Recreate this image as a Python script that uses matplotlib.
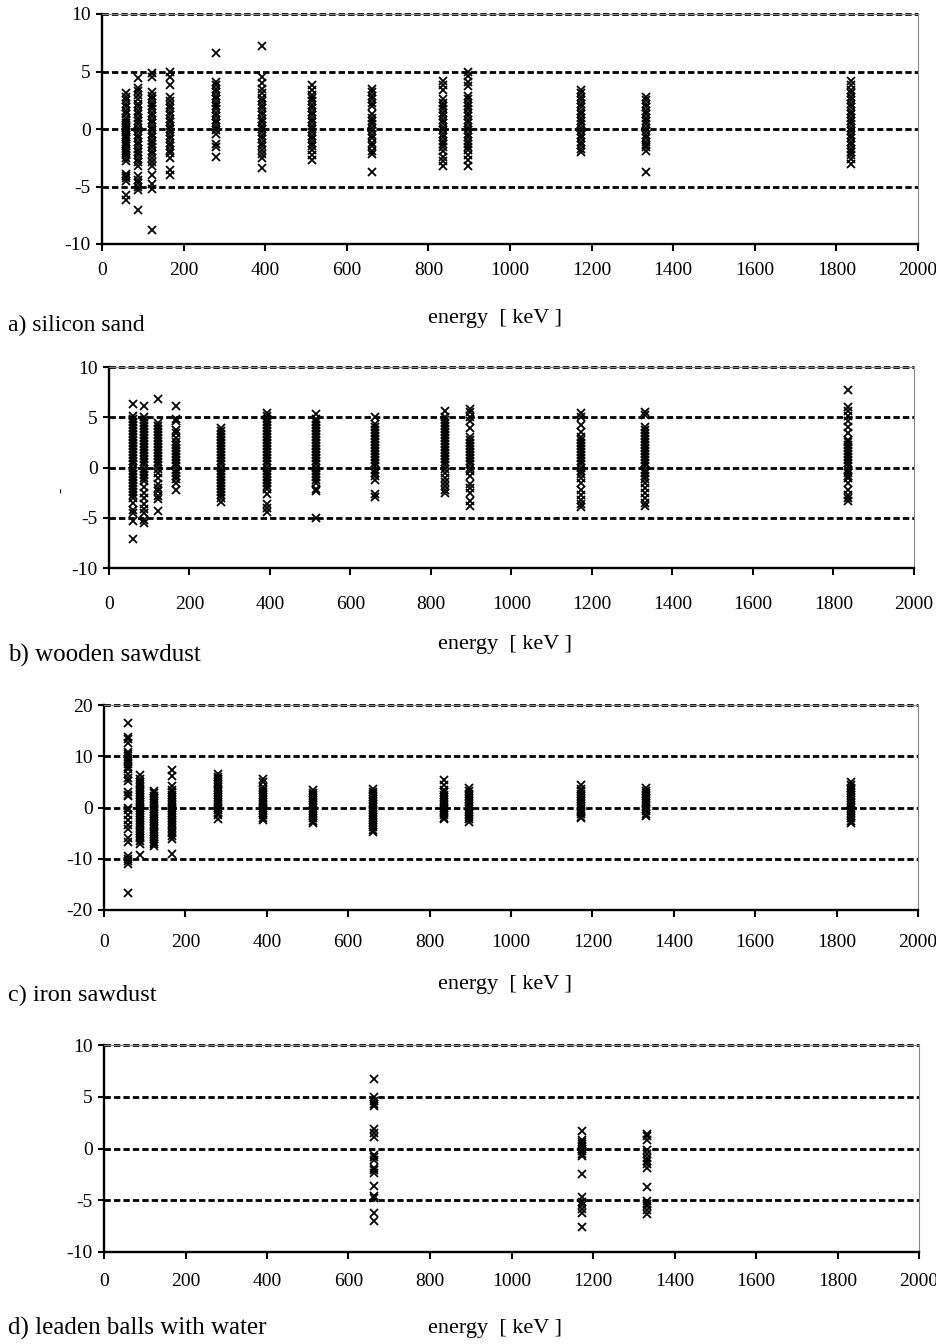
import matplotlib.pyplot as plt
import numpy as np

plt.rcParams['font.family'] = ['Liberation Serif', 'DejaVu Serif']
plt.rcParams['axes.unicode_minus'] = False

# gamma lines, keV
energies = [59.5, 88.0, 122.1, 165.9, 279.2, 391.7, 514.0, 661.7, 834.8, 898.0, 1173.2, 1332.5, 1836.1]
energies_lead = [661.7, 1173.2, 1332.5]

# a) silicon sand, deviation per line
sand_dev = [
    [3.1, 2.8, 2.5, 2.2, 1.9, 1.6, 1.3, 1.0, 0.8, 0.5, 0.3, 0.1, -0.1, -0.3, -0.5, -0.7, -0.9, -1.1, -1.3, -1.5, -1.7, -1.9, -2.1, -2.3, -2.5, -2.8, -3.9, -4.1, -4.3, -4.5, -5.7, -6.2],
    [4.4, 3.6, 3.3, 3.0, 2.6, 2.2, 1.9, 1.6, 1.3, 1.0, 0.7, 0.4, 0.1, -0.2, -0.5, -0.8, -1.1, -1.4, -1.7, -2.0, -2.3, -2.6, -2.9, -3.2, -4.1, -4.4, -4.7, -5.0, -5.3, -7.0],
    [4.9, 4.5, 3.2, 2.9, 2.6, 2.3, 2.0, 1.7, 1.4, 1.1, 0.8, 0.5, 0.2, -0.1, -0.4, -0.7, -1.0, -1.3, -1.6, -1.9, -2.2, -2.5, -2.9, -3.2, -4.0, -4.8, -5.2, -8.8],
    [5.0, 4.5, 3.8, 2.8, 2.4, 2.1, 1.8, 1.5, 1.2, 0.9, 0.6, 0.3, 0.0, -0.3, -0.6, -0.9, -1.2, -1.5, -1.8, -2.1, -2.5, -3.6, -4.0],
    [6.6, 4.1, 3.8, 3.5, 3.2, 2.9, 2.6, 2.3, 2.0, 1.7, 1.4, 1.1, 0.8, 0.5, 0.2, -0.1, -0.4, -1.3, -1.6, -2.4],
    [7.2, 4.5, 4.0, 3.5, 3.1, 2.7, 2.4, 2.1, 1.8, 1.5, 1.2, 0.9, 0.6, 0.3, 0.0, -0.3, -0.6, -0.9, -1.2, -1.5, -1.8, -2.2, -2.5, -3.4],
    [3.8, 3.4, 3.0, 2.7, 2.4, 2.1, 1.8, 1.5, 1.2, 0.9, 0.6, 0.3, 0.0, -0.3, -0.6, -0.9, -1.2, -1.5, -1.8, -2.3, -2.7],
    [3.5, 3.2, 2.9, 2.6, 2.3, 2.0, 1.3, 1.0, 0.7, 0.4, 0.1, -0.2, -0.5, -0.8, -1.2, -1.5, -1.9, -2.2, -3.7],
    [4.2, 3.8, 3.4, 2.6, 2.3, 2.0, 1.7, 1.4, 1.1, 0.8, 0.5, 0.2, -0.1, -0.4, -0.7, -1.0, -1.3, -1.6, -1.9, -2.4, -2.8, -3.2],
    [5.0, 4.6, 4.1, 3.7, 2.9, 2.6, 2.3, 2.0, 1.7, 1.4, 1.1, 0.8, 0.5, 0.2, -0.1, -0.4, -0.7, -1.0, -1.3, -1.6, -1.8, -2.3, -2.7, -3.2],
    [3.4, 3.1, 2.8, 2.5, 2.2, 1.9, 1.6, 1.3, 1.0, 0.7, 0.4, 0.1, -0.2, -0.5, -0.8, -1.1, -1.4, -1.7, -2.0],
    [2.8, 2.5, 2.2, 1.9, 1.6, 1.3, 1.0, 0.7, 0.4, 0.1, -0.2, -0.5, -0.8, -1.1, -1.4, -1.6, -1.9, -3.7],
    [4.2, 3.8, 3.4, 3.1, 2.8, 2.5, 2.2, 1.9, 1.6, 1.3, 1.0, 0.7, 0.4, 0.1, -0.2, -0.5, -0.8, -1.1, -1.4, -1.7, -2.0, -2.3, -2.6, -3.0],
]

# b) wooden sawdust
wood_dev = [
    [6.3, 5.1, 4.8, 4.5, 4.2, 3.9, 3.6, 3.3, 3.0, 2.7, 2.4, 2.1, 1.8, 1.5, 1.2, 0.9, 0.6, 0.3, 0.0, -0.3, -0.6, -0.9, -1.2, -1.5, -1.8, -2.1, -2.4, -2.7, -3.0, -3.5, -4.2, -4.5, -5.3, -7.1],
    [6.1, 5.0, 4.7, 4.4, 4.1, 3.8, 3.5, 3.2, 2.9, 2.6, 2.3, 2.0, 1.7, 1.4, 1.1, 0.8, 0.5, 0.2, -0.1, -0.4, -0.7, -1.0, -1.3, -1.9, -2.5, -3.0, -3.6, -4.1, -4.5, -5.2, -5.5],
    [6.8, 4.4, 4.1, 3.8, 3.5, 3.2, 2.9, 2.6, 2.3, 2.0, 1.7, 1.4, 1.1, 0.8, 0.5, 0.2, -0.1, -0.5, -1.0, -1.6, -2.0, -2.3, -2.8, -3.1, -4.3],
    [6.1, 4.8, 4.6, 3.7, 3.4, 2.9, 2.5, 2.2, 1.9, 1.6, 1.3, 1.0, 0.7, 0.4, 0.1, -0.2, -0.5, -0.8, -1.1, -1.5, -2.2],
    [3.9, 3.6, 3.3, 3.0, 2.7, 2.4, 2.1, 1.8, 1.5, 1.2, 0.9, 0.6, 0.3, 0.0, -0.3, -0.6, -0.9, -1.2, -1.5, -1.8, -2.1, -2.4, -2.7, -3.0, -3.4],
    [5.4, 5.1, 4.8, 4.5, 4.2, 3.9, 3.6, 3.3, 3.0, 2.7, 2.4, 2.1, 1.8, 1.5, 1.2, 0.9, 0.6, 0.3, 0.0, -0.3, -0.6, -0.9, -1.2, -1.5, -1.8, -2.1, -2.6, -3.6, -4.0, -4.4],
    [5.3, 4.8, 4.5, 4.2, 3.9, 3.6, 3.3, 3.0, 2.7, 2.4, 2.1, 1.8, 1.5, 1.2, 0.9, 0.6, 0.3, 0.0, -0.3, -0.6, -0.9, -1.2, -1.5, -2.1, -2.3, -5.0],
    [5.0, 4.3, 4.0, 3.7, 3.4, 3.1, 2.8, 2.5, 2.2, 1.9, 1.6, 1.3, 1.0, 0.7, 0.4, 0.1, -0.2, -0.5, -0.8, -1.2, -2.6, -2.9],
    [5.6, 5.0, 4.7, 4.4, 4.1, 3.8, 3.5, 3.2, 2.9, 2.6, 2.3, 2.0, 1.7, 1.4, 1.1, 0.8, 0.5, 0.2, -0.1, -0.5, -1.0, -1.4, -1.8, -2.2, -2.5],
    [5.8, 5.5, 5.0, 4.6, 3.9, 3.0, 2.7, 2.4, 2.1, 1.8, 1.5, 1.2, 0.9, 0.6, 0.3, 0.0, -0.3, -0.8, -1.6, -2.0, -2.5, -3.3, -3.8],
    [5.4, 5.0, 4.2, 3.5, 3.0, 2.7, 2.4, 2.1, 1.8, 1.5, 1.2, 0.9, 0.6, 0.3, 0.0, -0.3, -0.6, -1.0, -1.5, -2.2, -2.7, -3.2, -3.6, -3.9],
    [5.5, 5.2, 4.0, 3.7, 3.4, 3.1, 2.8, 2.5, 2.2, 1.9, 1.6, 1.3, 1.0, 0.7, 0.4, 0.1, -0.2, -0.5, -0.8, -1.1, -1.5, -2.0, -2.5, -3.0, -3.5, -3.8],
    [7.7, 6.0, 5.6, 5.1, 4.6, 4.0, 3.4, 2.7, 2.5, 2.2, 1.9, 1.6, 1.3, 1.0, 0.7, 0.4, 0.1, -0.2, -0.5, -0.8, -1.0, -1.5, -2.2, -2.7, -3.0, -3.3],
]

# c) iron sawdust
iron_dev = [
    [16.5, 13.8, 13.3, 12.6, 10.9, 10.5, 10.0, 9.5, 9.0, 8.5, 8.0, 7.5, 6.6, 5.8, 5.2, 3.0, 2.5, 2.2, 0.0, -0.5, -1.5, -2.5, -3.5, -4.2, -6.0, -6.7, -9.5, -10.0, -10.4, -11.0, -16.6],
    [6.3, 5.5, 5.0, 4.5, 4.0, 3.5, 3.0, 2.5, 2.0, 1.5, 1.0, 0.5, 0.0, -0.5, -1.0, -1.5, -2.0, -2.5, -3.0, -3.5, -4.0, -4.5, -5.0, -5.5, -6.0, -6.5, -7.2, -9.3],
    [3.3, 2.8, 2.3, 1.8, 1.3, 0.8, 0.3, -0.2, -0.7, -1.2, -1.7, -2.2, -2.7, -3.2, -3.7, -4.2, -4.7, -5.2, -5.7, -6.2, -6.7, -7.2, -7.6],
    [7.4, 6.2, 4.2, 3.5, 3.0, 2.5, 2.0, 1.5, 1.0, 0.5, 0.0, -0.5, -1.0, -1.5, -2.0, -2.5, -3.0, -3.5, -4.0, -4.5, -5.0, -5.5, -6.2, -9.0],
    [6.6, 6.0, 5.5, 5.0, 4.5, 4.0, 3.5, 3.0, 2.5, 2.0, 1.5, 1.0, 0.5, 0.0, -0.5, -1.0, -1.5, -2.2],
    [5.6, 5.0, 4.0, 3.5, 3.0, 2.5, 2.0, 1.5, 1.0, 0.5, 0.0, -0.5, -1.0, -1.5, -2.0, -2.5],
    [3.4, 2.9, 2.4, 1.9, 1.4, 0.9, 0.4, -0.1, -0.6, -1.1, -1.6, -2.1, -2.6, -3.1],
    [3.6, 3.1, 2.6, 2.1, 1.6, 1.1, 0.6, 0.1, -0.4, -0.9, -1.4, -1.9, -2.4, -2.9, -3.4, -3.9, -4.4, -4.8],
    [5.3, 4.3, 3.5, 3.0, 2.5, 2.0, 1.5, 1.0, 0.5, 0.0, -0.5, -1.0, -1.5, -2.0, -2.3],
    [3.9, 3.2, 2.7, 2.2, 1.7, 1.2, 0.7, 0.2, -0.3, -0.8, -1.3, -1.8, -2.3, -2.8],
    [4.3, 3.6, 3.2, 2.7, 2.2, 1.7, 1.2, 0.7, 0.2, -0.3, -0.8, -1.3, -1.8, -2.1],
    [3.9, 3.3, 2.8, 2.3, 1.8, 1.3, 0.8, 0.3, -0.2, -0.7, -1.2, -1.7],
    [4.9, 4.4, 3.9, 3.4, 2.9, 2.4, 1.9, 1.4, 0.9, 0.4, -0.1, -0.6, -1.1, -1.6, -2.1, -2.6, -3.1],
]

# d) leaden balls with water
lead_dev = [
    [6.7, 5.0, 4.6, 4.3, 4.1, 1.9, 1.5, 1.1, -0.6, -0.8, -1.1, -1.9, -2.1, -2.4, -3.6, -4.6, -4.8, -6.2, -7.0],
    [1.7, 0.8, 0.6, 0.4, 0.2, 0.0, -0.2, -0.5, -0.7, -2.5, -4.7, -5.2, -5.5, -5.8, -6.2, -7.6],
    [1.4, 1.2, 0.8, -0.1, -0.5, -0.9, -1.2, -1.5, -1.9, -3.7, -5.1, -5.4, -5.6, -5.9, -6.3],
]

panel_labels = ['a) silicon sand', 'b) wooden sawdust', 'c) iron sawdust', 'd) leaden balls with water']
x_label = 'energy  [ keV ]'

W, H = 937, 1344
fig = plt.figure(figsize=(W / 100, H / 100), dpi=100)
fig.patch.set_facecolor('white')


def px_axes(left, right, top, bottom):
    # позиция осей в пикселях картинки
    return fig.add_axes([left / W, 1 - bottom / H, (right - left) / W, (bottom - top) / H])


def draw_panel(ax, xs, devs, lim, step, xpad=10):
    for e, d in zip(xs, devs):
        ax.plot(np.full(len(d), e), d, linestyle='none', marker='x',
                markersize=6, markeredgewidth=1.3, color='black', zorder=3)

    # пунктирные линии
    for y in np.arange(-lim + step, lim + step / 2, step):
        ax.axhline(y, color='black', lw=2.0, linestyle=(0, (2.3, 1.1)),
                   clip_on=False, zorder=2)

    ax.set_xlim(0, 2000)
    ax.set_ylim(-lim, lim)
    ax.set_xticks(np.arange(0, 2001, 200))
    ax.set_yticks(np.arange(-lim, lim + 1, step))

    for s in ['left', 'bottom']:
        ax.spines[s].set_linewidth(1.7)
        ax.spines[s].set_color('black')
    for s in ['top', 'right']:
        ax.spines[s].set_linewidth(0.8)
        ax.spines[s].set_color('#888888')

    ax.tick_params(axis='x', direction='out', length=5, width=1.5, pad=xpad, labelsize=14)
    ax.tick_params(axis='y', direction='out', length=4, width=1.5, pad=4, labelsize=14)


ax_a = px_axes(102, 918, 14, 244)
draw_panel(ax_a, energies, sand_dev, 10, 5, xpad=8)
ax_b = px_axes(109, 914, 367, 568)
draw_panel(ax_b, energies, wood_dev, 10, 5, xpad=15)
ax_c = px_axes(104, 918, 705, 910)
draw_panel(ax_c, energies, iron_dev, 20, 10, xpad=12)
ax_d = px_axes(104, 919, 1045, 1252)
draw_panel(ax_d, energies_lead, lead_dev, 10, 5, xpad=10)

# подписи
label_pos = [(325, 318, 495, 17), (655, 645, 505, 18), (995, 985, 505, 17.5), (1328, 1328, 495, 18)]
for lab, (yl, ye, xe, fs) in zip(panel_labels, label_pos):
    fig.text(8 / W, 1 - yl / H, lab, fontsize=fs, ha='left', va='center')
    fig.text(xe / W, 1 - ye / H, x_label, fontsize=16, ha='center', va='center')

# маленький штрих слева у панели b
fig.text(62 / W, 1 - 490 / H, '-', fontsize=11, rotation=90, ha='center', va='center')

fig.savefig('out.png', dpi=100, facecolor='white')
